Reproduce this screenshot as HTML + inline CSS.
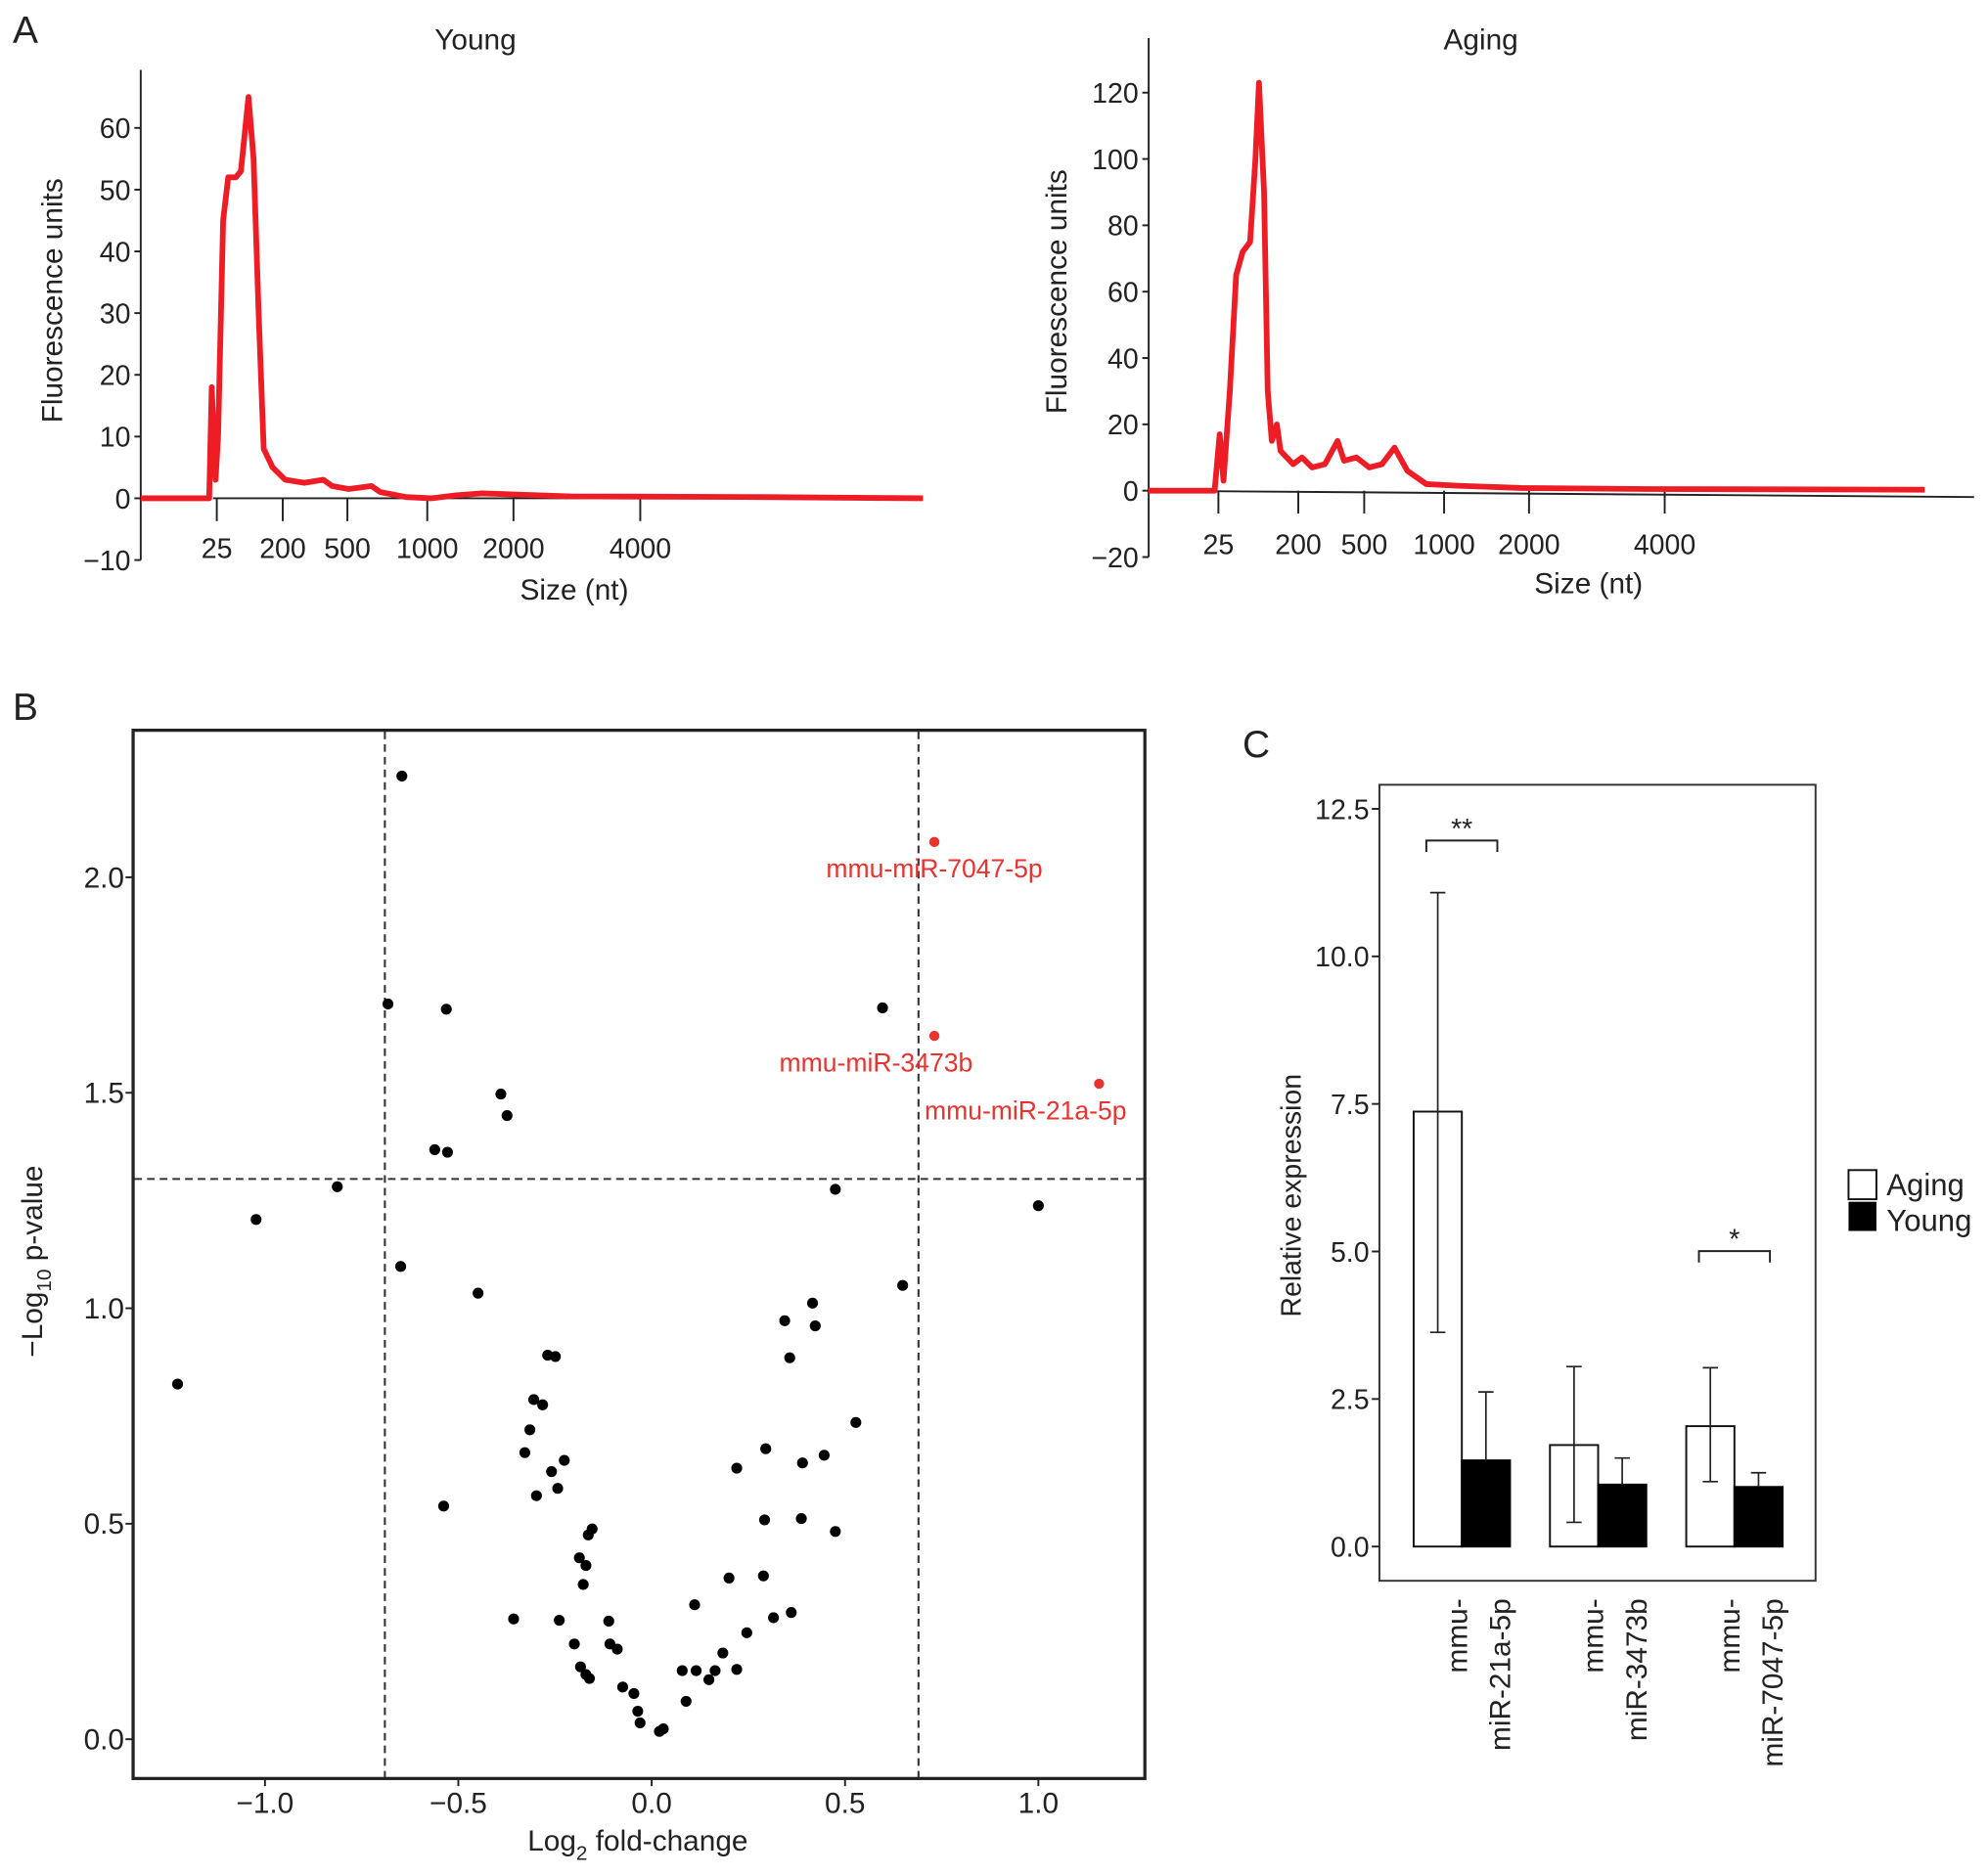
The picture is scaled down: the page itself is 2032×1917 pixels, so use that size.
<!DOCTYPE html>
<html><head><meta charset="utf-8"><style>
html,body{margin:0;padding:0;background:#fff}
svg{display:block}
text{font-family:"Liberation Sans",sans-serif;fill:#222}
</style></head><body>
<svg id="fig" width="2032" height="1917" viewBox="0 0 1568 1479" xmlns="http://www.w3.org/2000/svg">
<g id="static">
<text x="10" y="34" font-size="30">A</text>
<text x="10" y="568" font-size="30">B</text>
<text x="980" y="597" font-size="30">C</text>
</g>
</svg>
<script>
const NS='http://www.w3.org/2000/svg';
const svg=document.getElementById('fig');
function mk(tag,attrs,parent,txt){const e=document.createElementNS(NS,tag);for(const k in attrs)e.setAttribute(k,attrs[k]);if(txt!==undefined)e.textContent=txt;(parent||svg).appendChild(e);return e;}

// ===== Panel A data =====
const ladderTicks=[25,200,500,1000,2000,4000];
const fluorYTicksYoung=[-10,0,10,20,30,40,50,60];
const fluorYTicksAging=[-20,0,20,40,60,80,100,120];
const youngSize=[-177,4.8,11.5,21.6,28.4,41.8,55.3,75.5,89,109,122.6,136,149.6,173,212,300,388,429,508,651,706,865,1044,1338,1632,2900,5900,8460];
const youngFU=[0,0,18,3,10,45,52,52,53,65,55,30,8,5,3,2.5,3,2,1.5,2,1,0.2,0,0.5,0.8,0.3,0.2,0];
const agingSize=[-128,16.7,27.8,36,50,64,78,94.5,106,114,125,133,142,153,161,189,217,263,321,379,408,465,532,611,690,770,889,1164,1910,3757,7834];
const agingFU=[0,0,17,3,30,65,72,75,100,123,90,30,15,20,12,8,10,7,8,15,9,10,7,8,13,6,2,1.5,0.8,0.5,0.3];

function ladderScale(tickPx){
  return function(nt){
    const t=ladderTicks;
    if(nt<=t[1]){return tickPx[0]+(nt-t[0])*(tickPx[1]-tickPx[0])/(t[1]-t[0]);}
    for(let i=1;i<t.length-1;i++){if(nt<=t[i+1])return tickPx[i]+(nt-t[i])*(tickPx[i+1]-tickPx[i])/(t[i+1]-t[i]);}
    const n=t.length-1;return tickPx[n]+(nt-t[n])*(tickPx[n]-tickPx[n-1])/(t[n]-t[n-1]);
  };
}
function electro(cfg){
  const g=mk('g',{});
  
  
  const xs=ladderScale(cfg.tickPx);
  const ys=v=>cfg.y0-cfg.ppu*v;
  const ax=mk('line',{x1:cfg.axX,y1:cfg.axTop,x2:cfg.axX,y2:ys(cfg.yTicks[0]),stroke:'#222','stroke-width':1.5},g);
  
  cfg.yTicks.forEach(v=>{
    mk('line',{x1:cfg.axX-5,y1:ys(v),x2:cfg.axX,y2:ys(v),stroke:'#222','stroke-width':1.5},g);
    const t=mk('text',{x:cfg.axX-8,y:ys(v)+8,'font-size':22,'text-anchor':'end'},g,v<0?'\u2212'+(-v):String(v));
    
  });
  const bl=mk('line',{x1:cfg.baseX1,y1:ys(0)+cfg.baseTilt0,x2:cfg.baseX2,y2:ys(0)+cfg.baseTilt1,stroke:'#222','stroke-width':1.5},g);
  
  ladderTicks.forEach(v=>{
    mk('line',{x1:xs(v),y1:ys(0),x2:xs(v),y2:ys(0)+18,stroke:'#222','stroke-width':1.5},g);
    const t=mk('text',{x:xs(v),y:cfg.tickLabelY,'font-size':22,'text-anchor':'middle'},g,String(v));
    
  });
  let d='';cfg.size.forEach((s,i)=>{d+=(i?'L':'M')+xs(s).toFixed(1)+','+ys(cfg.fu[i]).toFixed(1);});
  const p=mk('path',{d:d,fill:'none',stroke:'#ee1c24','stroke-width':4.5,'stroke-linejoin':'round'},g);
  
  const tt=mk('text',{x:cfg.titleX,y:39,'font-size':23,'text-anchor':'middle'},g,cfg.title);
  
  const xt=mk('text',{x:cfg.xTitleX,y:cfg.xTitleY,'font-size':23,'text-anchor':'middle'},g,'Size (nt)');
  
  const yt=mk('text',{x:0,y:0,'font-size':23,'text-anchor':'middle',transform:`translate(${cfg.yTitleX},${cfg.yTitleY}) rotate(-90)`},g,'Fluorescence units');
  
}
electro({name:'young-electropherogram',tickPx:[171,223,274,337,405,505],y0:393,ppu:4.87,axX:111,axTop:55,yTicks:fluorYTicksYoung,
  baseX1:168,baseX2:500,baseTilt0:0,baseTilt1:0,tickLabelY:440,size:youngSize,fu:youngFU,title:'Young',titleX:375,xTitleX:453,xTitleY:473,yTitleX:49,yTitleY:237});
electro({name:'aging-electropherogram',tickPx:[961,1024,1076,1139,1206,1313],y0:387,ppu:2.617,axX:906,axTop:30,yTicks:fluorYTicksAging,
  baseX1:906,baseX2:1557,baseTilt0:0,baseTilt1:5,tickLabelY:437,size:agingSize,fu:agingFU,title:'Aging',titleX:1168,xTitleX:1253,xTitleY:468,yTitleX:841,yTitleY:230});

// ===== Panel B: volcano =====
const volcanoX=[-0.646,-0.682,-0.531,0.597,-0.390,-0.374,-0.561,-0.528,-0.813,-1.023,0.475,1.0,-0.649,-0.449,0.649,-1.226,0.416,0.344,0.423,0.357,-0.269,-0.249,-0.305,-0.282,-0.315,-0.328,-0.259,-0.226,-0.298,-0.243,-0.538,0.295,0.528,0.446,0.390,0.220,0.292,0.387,0.475,-0.154,-0.164,-0.187,-0.170,-0.177,0.200,0.289,0.111,-0.357,-0.239,-0.111,0.361,0.315,0.246,-0.108,-0.089,-0.200,-0.184,-0.170,-0.161,0.184,0.220,0.164,0.148,0.115,0.079,-0.075,-0.046,-0.036,-0.030,0.089,0.020,0.030];
const volcanoY=[2.235,1.706,1.694,1.697,1.497,1.447,1.368,1.362,1.282,1.206,1.276,1.238,1.097,1.035,1.053,0.824,1.012,0.971,0.959,0.885,0.891,0.888,0.788,0.776,0.718,0.665,0.621,0.647,0.565,0.582,0.541,0.674,0.735,0.659,0.641,0.629,0.509,0.512,0.482,0.488,0.474,0.421,0.403,0.359,0.374,0.379,0.312,0.279,0.276,0.274,0.294,0.282,0.247,0.221,0.209,0.221,0.168,0.150,0.141,0.200,0.162,0.159,0.138,0.159,0.159,0.121,0.106,0.065,0.038,0.088,0.018,0.024];
const sigNames=['mmu-miR-7047-5p','mmu-miR-3473b','mmu-miR-21a-5p'];
const sigX=[0.731,0.731,1.157];
const sigY=[2.082,1.632,1.521];
const volcanoXTicks=[-1.0,-0.5,0.0,0.5,1.0];
const volcanoYTicks=[0.0,0.5,1.0,1.5,2.0];
const fcCut=0.69, pCut=1.30;
const vx=v=>514+305*v, vy=v=>1372-340*v;
{
  const g=mk('g',{});
  
  const box=mk('rect',{x:105,y:576,width:798,height:827,fill:'none',stroke:'#222','stroke-width':2.5},g);
  
  [-fcCut,fcCut].forEach(c=>{const l=mk('line',{x1:vx(c),y1:577,x2:vx(c),y2:1402,stroke:'#333','stroke-width':1.6,'stroke-dasharray':'6,4'},g);
    });
  const hl=mk('line',{x1:106,y1:vy(pCut),x2:902,y2:vy(pCut),stroke:'#333','stroke-width':1.6,'stroke-dasharray':'6,4'},g);
  
  volcanoXTicks.forEach(v=>{mk('line',{x1:vx(v),y1:1403,x2:vx(v),y2:1409,stroke:'#222','stroke-width':1.5},g);
    const t=mk('text',{x:vx(v),y:1430,'font-size':23,'text-anchor':'middle'},g,v<0?'\u2212'+(-v).toFixed(1):v.toFixed(1));
    });
  volcanoYTicks.forEach(v=>{mk('line',{x1:99,y1:vy(v),x2:105,y2:vy(v),stroke:'#222','stroke-width':1.5},g);
    const t=mk('text',{x:98,y:vy(v)+8,'font-size':23,'text-anchor':'end'},g,v.toFixed(1));
    });
  volcanoX.forEach((x,i)=>{const c=mk('circle',{cx:vx(x),cy:vy(volcanoY[i]),r:4.3,fill:'#000'},g);
    });
  const lblDx=[0,-46,-58];
  sigX.forEach((x,i)=>{const c=mk('circle',{cx:vx(x),cy:vy(sigY[i]),r:4,fill:'#e8332f'},g);
    
    const t=mk('text',{x:vx(x)+lblDx[i],y:vy(sigY[i])+28,'font-size':20.5,'text-anchor':'middle',style:'fill:#e8332f'},g,sigNames[i]);
    });
  const xt=mk('text',{x:503,y:1460,'font-size':23,'text-anchor':'middle'},g);
  
  xt.innerHTML='Log<tspan font-size="16" dy="7">2</tspan><tspan dy="-7"> fold-change</tspan>';
  const yt=mk('text',{x:0,y:0,'font-size':23,'text-anchor':'middle',transform:'translate(33,995) rotate(-90)'},g);
  
  yt.innerHTML='\u2212Log<tspan font-size="16" dy="7">10</tspan><tspan dy="-7"> p-value</tspan>';
}

// ===== Panel C: bar chart =====
const barGroups=['mmu-miR-21a-5p','mmu-miR-3473b','mmu-miR-7047-5p'];
const agingMean=[7.37,1.72,2.04];
const agingLow=[3.63,0.41,1.10];
const agingHigh=[11.08,3.05,3.03];
const youngMean=[1.46,1.05,1.01];
const youngLow=[1.46,1.05,1.01];
const youngHigh=[2.62,1.50,1.25];
const sigMarks=['**','','*'];
const barYTicks=[0.0,2.5,5.0,7.5,10.0,12.5];
const by=v=>1220-46.56*v;
{
  const g=mk('g',{});
  
  const box=mk('rect',{x:1088,y:619,width:344,height:628,fill:'none',stroke:'#333','stroke-width':1.5},g);
  
  barYTicks.forEach(v=>{mk('line',{x1:1082,y1:by(v),x2:1088,y2:by(v),stroke:'#222','stroke-width':1.5},g);
    const t=mk('text',{x:1080,y:by(v)+8,'font-size':22,'text-anchor':'end'},g,v.toFixed(1));
    });
  const bw=38;
  barGroups.forEach((name,i)=>{
    const gx=1115+i*107.5;
    const a=mk('rect',{x:gx,y:by(agingMean[i]),width:bw,height:by(0)-by(agingMean[i]),fill:'#fff',stroke:'#111','stroke-width':1.5},g);
    
    const yb=mk('rect',{x:gx+bw,y:by(youngMean[i]),width:bw,height:by(0)-by(youngMean[i]),fill:'#000',stroke:'#000','stroke-width':1.5},g);
    
    const ea=mk('path',{d:`M${gx+bw/2},${by(agingLow[i])}V${by(agingHigh[i])}M${gx+bw/2-6},${by(agingLow[i])}h12M${gx+bw/2-6},${by(agingHigh[i])}h12`,stroke:'#222','stroke-width':1.3,fill:'none'},g);
    
    const ey=mk('path',{d:`M${gx+bw*1.5},${by(youngLow[i])}V${by(youngHigh[i])}M${gx+bw*1.5-6},${by(youngHigh[i])}h12`,stroke:'#222','stroke-width':1.3,fill:'none'},g);
    
    if(sigMarks[i]){
      const top=Math.max(agingHigh[i],youngHigh[i]);
      const yy=i===0?663:by(top)-92;
      const br=mk('path',{d:`M${gx+10},${yy+9}V${yy}H${gx+66}V${yy+9}`,stroke:'#222','stroke-width':1.5,fill:'none'},g);
      
      const st=mk('text',{x:gx+38,y:yy-2,'font-size':22,'text-anchor':'middle'},g,sigMarks[i]);
      
    }
    const parts=name.split(/(?<=mmu-)/);
    parts.forEach((p,j)=>{
      const t=mk('text',{x:0,y:0,'font-size':23,'text-anchor':'end',transform:`translate(${gx+42+j*34},1261) rotate(-90)`},g,p);
      
    });
  });
  const yt=mk('text',{x:0,y:0,'font-size':22,'text-anchor':'middle',transform:'translate(1026,943) rotate(-90)'},g,'Relative expression');
  
  const lg=mk('g',{},g);
  
  const r1=mk('rect',{x:1458,y:923,width:22,height:23,fill:'#fff',stroke:'#111','stroke-width':1.5},lg);
  
  const r2=mk('rect',{x:1458,y:948,width:22,height:23,fill:'#000'},lg);
  
  const t1=mk('text',{x:1488,y:943,'font-size':24},lg,'Aging');
  
  const t2=mk('text',{x:1488,y:971,'font-size':24},lg,'Young');
  
}
</script>
</body></html>
